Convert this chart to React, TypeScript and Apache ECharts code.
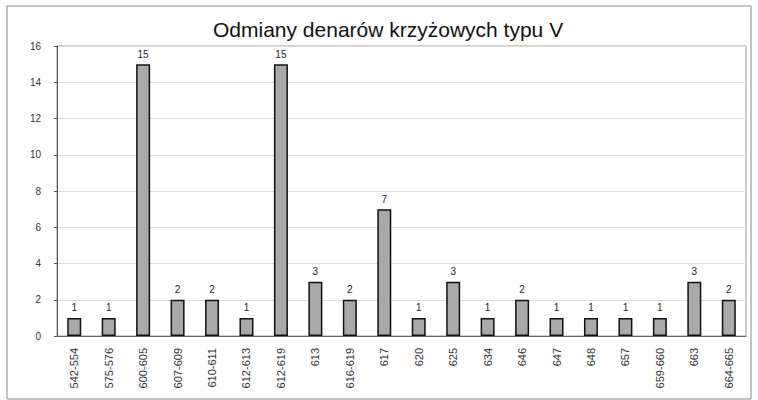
import React, { useEffect, useRef } from "react";
import * as echarts from "echarts";

const categories = [
  "542-554", "575-576", "600-605", "607-609", "610-611", "612-613", "612-619",
  "613", "616-619", "617", "620", "625", "634", "646", "647", "648", "657",
  "659-660", "663", "664-665",
];
const counts = [1, 1, 15, 2, 2, 1, 15, 3, 2, 7, 1, 3, 1, 2, 1, 1, 1, 1, 3, 2];
const yMin = 0;
const yMax = 16;
const yStep = 2;
const titleText = "Odmiany denarów krzyżowych typu V";

export default function App() {
  const ref = useRef<HTMLDivElement>(null);
  useEffect(() => {
    if (!ref.current) return;
    const chart = echarts.init(ref.current, undefined, { renderer: "svg" });
    const font = "Liberation Sans, Arial, sans-serif";
    chart.setOption({
      animation: false,
      backgroundColor: "#ffffff",
      textStyle: { fontFamily: font },
      title: {
        text: titleText,
        left: 208,
        top: 14,
        textStyle: { fontSize: 21, fontWeight: "normal", color: "#111", fontFamily: font },
      },
      graphic: [
        {
          type: "rect",
          shape: { x: 7, y: 6, width: 744, height: 393 },
          style: { fill: "none", stroke: "#8a8a8a", lineWidth: 1 },
          silent: true,
        },
      ],
      grid: {
        left: 57,
        right: 12,
        top: 46,
        bottom: 64,
        containLabel: false,
        show: true,
        borderColor: "#9a9a9a",
        borderWidth: 1,
        backgroundColor: "transparent",
      },
      xAxis: {
        type: "category",
        data: categories,
        axisLine: { show: true, lineStyle: { color: "#666", width: 1 } },
        axisTick: { show: false },
        axisLabel: {
          rotate: 90,
          fontSize: 11,
          color: "#333",
          margin: 12,
          interval: 0,
          fontFamily: font,
        },
      },
      yAxis: {
        type: "value",
        min: yMin,
        max: yMax,
        interval: yStep,
        axisLine: { show: true, lineStyle: { color: "#555", width: 1 } },
        axisTick: { show: true, length: 3, lineStyle: { color: "#555" } },
        axisLabel: { fontSize: 10, color: "#333", margin: 16, fontFamily: font },
        splitLine: { show: true, lineStyle: { color: "#dddddd", width: 1 } },
      },
      series: [
        {
          type: "bar",
          data: counts,
          barWidth: 14,
          itemStyle: { color: "#a9a9a9", borderColor: "#111", borderWidth: 1.5 },
          label: {
            show: true,
            position: "top",
            distance: 5,
            fontSize: 10,
            color: "#222222",
            fontFamily: font,
          },
        },
      ],
    });
    return () => chart.dispose();
  }, []);
  return (
    <div
      ref={ref}
      style={{ position: "fixed", left: 0, top: 0, width: 758, height: 400 }}
    />
  );
}
